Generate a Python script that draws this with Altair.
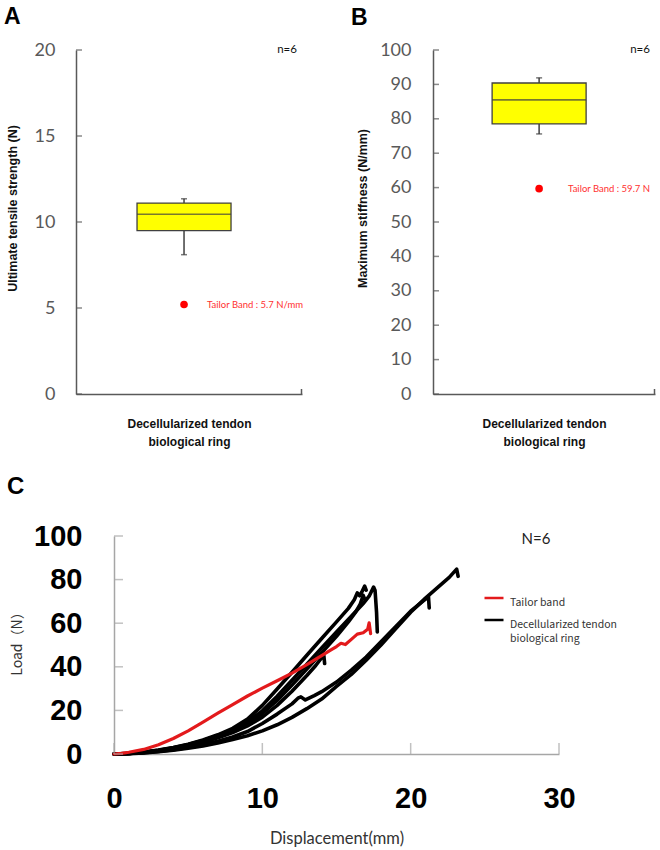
import altair as alt
import pandas as pd

# ---------------- data ----------------
category = ["Decellularized tendon|biological ring"]
n_samples = [6]

# Panel A: ultimate tensile strength (N)
uts_low = [8.1]
uts_q1 = [9.5]
uts_med = [10.45]
uts_q3 = [11.1]
uts_high = [11.35]
uts_tailor = [5.2]
uts_tailor_text = ["Tailor Band : 5.7 N/mm"]
uts_ticks = [0, 5, 10, 15, 20]

# Panel B: maximum stiffness (N/mm)
stf_low = [75.6]
stf_q1 = [78.5]
stf_med = [85.5]
stf_q3 = [90.4]
stf_high = [91.9]
stf_tailor = [59.7]
stf_tailor_text = ["Tailor Band : 59.7 N"]
stf_ticks = [0, 10, 20, 30, 40, 50, 60, 70, 80, 90, 100]

# Panel C: load-displacement curves
groups = ["Tailor band", "Decellularized tendon|biological ring"]
c_xticks = [0, 10, 20, 30]
c_yticks = [0, 20, 40, 60, 80, 100]

tailor_d = [0, 0.5, 1, 2, 3, 4, 5, 6, 7, 8, 9, 10, 11, 12, 13, 14, 14.6, 15, 15.3, 15.6, 16, 16.4, 16.8, 17.1, 17.2, 17.3]
tailor_L = [0, 0.3, 0.8, 2.1, 4.2, 7.1, 10.6, 14.6, 18.7, 22.7, 26.6, 30.2, 33.6, 37.1, 41.0, 45.1, 47.6, 49.3, 50.8, 50.2, 52.6, 55.0, 55.6, 57.2, 60.2, 55.2]

dec1_d = [0, 1, 2, 3, 4, 5, 6, 7, 8, 9, 10, 11, 12, 13, 14, 15, 15.8, 16.2, 16.4, 16.55, 16.7, 16.9, 17.0]
dec1_L = [0, 0.3, 0.9, 1.8, 3.0, 4.5, 6.4, 8.8, 11.8, 16.0, 22.3, 29.8, 37.5, 45.3, 53.0, 60.6, 66.8, 70.8, 73.9, 72.6, 74.2, 77.0, 75.2]

dec2_d = [0, 1, 2, 3, 4, 5, 6, 7, 8, 9, 10, 11, 12, 13, 14, 15, 16, 16.8, 17.2, 17.5, 17.6, 17.7, 17.75]
dec2_L = [0, 0.25, 0.8, 1.7, 2.9, 4.4, 6.2, 8.5, 11.2, 14.8, 19.8, 26.5, 33.8, 41.2, 48.6, 56.0, 63.2, 69.0, 72.4, 76.6, 75.0, 65.0, 56.0]

dec3_d = [0, 1, 2, 3, 4, 5, 6, 7, 8, 9, 10, 11, 12, 13, 14, 15, 15.8, 16.3, 16.6, 16.8, 16.9]
dec3_L = [0, 0.25, 0.75, 1.6, 2.7, 4.1, 5.8, 8.0, 10.6, 14.0, 18.6, 24.6, 31.6, 39.0, 46.4, 54.0, 60.6, 65.2, 68.8, 72.8, 71.0]

dec4_d = [0, 1, 2, 3, 4, 5, 6, 7, 8, 9, 10, 11, 12, 13, 13.6, 14.0, 14.15, 14.2]
dec4_L = [0, 0.2, 0.7, 1.5, 2.5, 3.8, 5.4, 7.4, 9.8, 12.9, 16.9, 22.3, 28.8, 36.0, 40.6, 44.2, 45.0, 41.5]

dec5_d = [0, 1, 2, 3, 4, 5, 6, 7, 8, 9, 10, 11, 12, 12.4, 12.6, 12.9, 13.5, 14, 15, 16, 17, 18, 19, 20, 21, 21.2, 21.25]
dec5_L = [0, 0.2, 0.6, 1.2, 2.0, 3.0, 4.3, 5.9, 7.8, 10.3, 14.0, 18.3, 23.0, 25.6, 26.2, 24.8, 26.8, 28.6, 33.0, 38.5, 44.5, 51.5, 58.5, 65.5, 71.0, 72.2, 67.0]

dec6_d = [0, 1, 2, 3, 4, 5, 6, 7, 8, 9, 10, 11, 12, 13, 14, 15, 16, 17, 18, 19, 20, 21, 22, 22.6, 23.1, 23.2]
dec6_L = [0, 0.15, 0.5, 1.0, 1.7, 2.6, 3.7, 5.0, 6.6, 8.4, 10.6, 13.4, 16.8, 20.8, 25.2, 31.0, 36.5, 43.0, 50.0, 57.5, 65.0, 71.5, 77.5, 81.0, 84.8, 81.5]

# ---------------- styles ----------------
AX = "#595959"
BOX_STROKE = "#404040"


def box_panel(low, q1, med, q3, high, tailor, tailor_text, ticks, ymax, ytitle,
              letter, width, label_pad, title_pad, letter_x, letter_y, n_x, text_dx):
    height = 344
    df = pd.DataFrame({
        "cat": category, "low": low, "q1": q1, "med": med, "q3": q3,
        "high": high, "tb": tailor, "tb_text": tailor_text,
        "n": ["n=%d" % n_samples[0]],
    })
    base = alt.Chart(df)
    xsc = alt.Scale(paddingInner=0, paddingOuter=0.5, align=0.456)
    ysc = alt.Scale(domain=[0, ymax], nice=False, zero=True)
    xax = alt.Axis(
        labels=False, ticks=False, domainColor=AX, domainWidth=1.5,
        title=["Decellularized tendon", "biological ring"],
        titleFont="Liberation Sans", titleFontWeight="bold", titleFontSize=12,
        titleColor="#111111", titlePadding=24, titleLineHeight=18)
    yax = alt.Axis(
        values=ticks, ticks=False, labelPadding=label_pad,
        labelFont="Lato", labelFontSize=18, labelColor=AX,
        domainColor=AX, domainWidth=1.5, grid=False,
        title=ytitle, titleFont="Liberation Sans", titleFontWeight="bold",
        titleFontSize=12.5, titleColor="#111111", titlePadding=title_pad,
        titleY=158)

    def X():
        return alt.X("cat:N", scale=xsc, axis=xax)

    def Y(field):
        return alt.Y(field, scale=ysc, axis=yax)

    whisk = base.mark_rule(color=BOX_STROKE, strokeWidth=1.5).encode(
        x=X(), y=Y("low:Q"), y2="high:Q")
    cap_hi = base.mark_tick(size=6, thickness=1.5, color=BOX_STROKE).encode(
        x=X(), y=Y("high:Q"))
    cap_lo = base.mark_tick(size=6, thickness=1.5, color=BOX_STROKE).encode(
        x=X(), y=Y("low:Q"))
    box = base.mark_bar(size=94, color="#ffff00", stroke=BOX_STROKE, strokeWidth=1.3).encode(
        x=X(), y=Y("q1:Q"), y2="q3:Q")
    median = base.mark_tick(size=94, thickness=1.6, color=BOX_STROKE).encode(
        x=X(), y=Y("med:Q"))
    dot = base.mark_circle(size=58, color="#ff0000", opacity=1).encode(
        x=X(), y=Y("tb:Q"))
    dot_text = base.mark_text(align="left", baseline="middle", dx=text_dx, font="Lato",
                              fontSize=9.5, color="#ff3030").encode(
        x=X(), y=Y("tb:Q"), text="tb_text:N")
    n_text = base.mark_text(align="center", baseline="middle", font="Lato",
                            fontSize=11.5, color="#111111").encode(
        x=alt.value(n_x), y=alt.value(0), text="n:N")
    letter_mark = base.mark_text(align="left", baseline="alphabetic", font="Liberation Sans",
                                 fontWeight="bold", fontSize=23, color="#000000").encode(
        x=alt.value(letter_x), y=alt.value(letter_y), text=alt.value(letter))
    inward = alt.Chart(pd.DataFrame({"t": ticks})).mark_tick(
        size=6, thickness=1.5, color=AX).encode(y=Y("t:Q"), x=alt.value(3))
    end_tick = base.mark_rule(color=AX, strokeWidth=1.5).encode(
        x=alt.value(width - 0.5), y=alt.value(height - 5), y2=alt.value(height))

    return alt.layer(whisk, cap_hi, cap_lo, box, median, dot, dot_text, n_text,
                     letter_mark, inward, end_tick).properties(width=width, height=height)


panel_a = box_panel(uts_low, uts_q1, uts_med, uts_q3, uts_high, uts_tailor, uts_tailor_text,
                    uts_ticks, 20, "Ultimate tensile strength  (N)", "A", 226,
                    label_pad=21, title_pad=15, letter_x=-72, letter_y=-26, n_x=211,
                    text_dx=23)
panel_b = box_panel(stf_low, stf_q1, stf_med, stf_q3, stf_high, stf_tailor, stf_tailor_text,
                    stf_ticks, 100, "Maximum  stiffness  (N/mm)", "B", 222,
                    label_pad=22, title_pad=10, letter_x=-82, letter_y=-25, n_x=207,
                    text_dx=29)

# ---------------- panel C ----------------
frames = []
series = [
    ("dec1", groups[1], dec1_d, dec1_L), ("dec2", groups[1], dec2_d, dec2_L),
    ("dec3", groups[1], dec3_d, dec3_L), ("dec4", groups[1], dec4_d, dec4_L),
    ("dec5", groups[1], dec5_d, dec5_L), ("dec6", groups[1], dec6_d, dec6_L),
    ("tailor", groups[0], tailor_d, tailor_L),
]
for name, grp, d, L in series:
    frames.append(pd.DataFrame({"sample": name, "group": grp, "d": d, "L": L,
                                "i": list(range(len(d)))}))
curves = pd.concat(frames, ignore_index=True)

CW, CH = 445, 218
CAX = "#a6a6a6"
cx = alt.Scale(domain=[0, 30], nice=False)
cy = alt.Scale(domain=[0, 100], nice=False)
color = alt.Color("group:N", scale=alt.Scale(domain=groups, range=["#e31a1c", "#000000"]),
                  legend=alt.Legend(orient="none", legendX=369, legendY=51, title=None,
                                    symbolType="stroke", symbolSize=361, symbolStrokeWidth=2.5,
                                    labelFont="Noto Sans CJK JP", labelFontSize=10.5,
                                    labelColor="#333333", labelBaseline="top",
                                    labelExpr="split(datum.label, '|')", labelOffset=5,
                                    labelLimit=300, rowPadding=0, padding=0))

cxax = alt.Axis(
    values=c_xticks, ticks=False, labelFlush=False, labelOverlap=False,
    labelFont="Liberation Sans", labelFontWeight="bold", labelFontSize=29,
    labelColor="#000000", labelPadding=30, domainColor=CAX, domainWidth=1.5, grid=False,
    title="Displacement(mm)", titleFont="Lato", titleFontWeight="normal",
    titleFontSize=16.5, titleColor="#333333", titlePadding=17)
cyax = alt.Axis(
    values=c_yticks, ticks=False, labelOverlap=False,
    labelFont="Liberation Sans", labelFontWeight="bold", labelFontSize=29,
    labelColor="#000000", labelPadding=32, domainColor=CAX, domainWidth=1.5, grid=False,
    title="Load（N）", titleFont="Noto Sans CJK JP", titleFontWeight="normal",
    titleFontSize=14, titleColor="#333333", titlePadding=9, titleY=104)


def CX(field):
    return alt.X(field, scale=cx, axis=cxax)


def CY(field):
    return alt.Y(field, scale=cy, axis=cyax)


black_lines = alt.Chart(curves[curves["group"] == groups[1]]).mark_line(
    strokeWidth=3.6, strokeJoin="round", strokeCap="round").encode(
    x=CX("d:Q"), y=CY("L:Q"), color=color, detail="sample:N", order="i:Q")
red_line = alt.Chart(curves[curves["group"] == groups[0]]).mark_line(
    strokeWidth=3.2, strokeJoin="round", strokeCap="round").encode(
    x=CX("d:Q"), y=CY("L:Q"), color=color, detail="sample:N", order="i:Q")

c_ytick_marks = alt.Chart(pd.DataFrame({"t": c_yticks})).mark_tick(
    size=9, thickness=1.5, color=CAX).encode(y=CY("t:Q"), x=alt.value(4.5))
c_xtick_marks = alt.Chart(pd.DataFrame({"t": c_xticks})).mark_tick(
    size=11, thickness=1.5, color=CAX).encode(x=CX("t:Q"), y=alt.value(CH - 5.5))

c_info = pd.DataFrame({"n": ["N=%d" % n_samples[0]]})
n_c = alt.Chart(c_info).mark_text(font="Lato", fontSize=15, color="#222222",
                                  align="center", baseline="middle").encode(
    x=alt.value(422), y=alt.value(3), text="n:N")
letter_c = alt.Chart(c_info).mark_text(align="left", baseline="alphabetic",
                                       font="Liberation Sans", fontWeight="bold",
                                       fontSize=24, color="#000000").encode(
    x=alt.value(-107), y=alt.value(-42), text=alt.value("C"))

panel_c = alt.layer(black_lines, red_line, c_ytick_marks, c_xtick_marks, n_c, letter_c).properties(
    width=CW, height=CH)

spacer = alt.Chart(pd.DataFrame({"v": [0]})).mark_point(opacity=0).encode(
    x=alt.X("v:Q", axis=None), y=alt.Y("v:Q", axis=None)).properties(width=38, height=CH)

top = alt.hconcat(panel_a, panel_b, spacing=131, bounds="flush")
bottom = (alt.hconcat(spacer, panel_c, spacing=0, bounds="flush")
          .resolve_scale(color="independent").resolve_legend(color="independent"))

chart = (alt.vconcat(top, bottom, spacing=28)
         .resolve_scale(color="independent")
         .resolve_legend(color="independent")
         .configure(style={"guide-label": {"lineHeight": 13.5}})
         .configure_view(strokeWidth=0)
         .properties(padding={"left": 4, "top": 6, "right": 0, "bottom": 0}))

chart.save("out.html", embed_options={"renderer": "svg", "actions": False})
